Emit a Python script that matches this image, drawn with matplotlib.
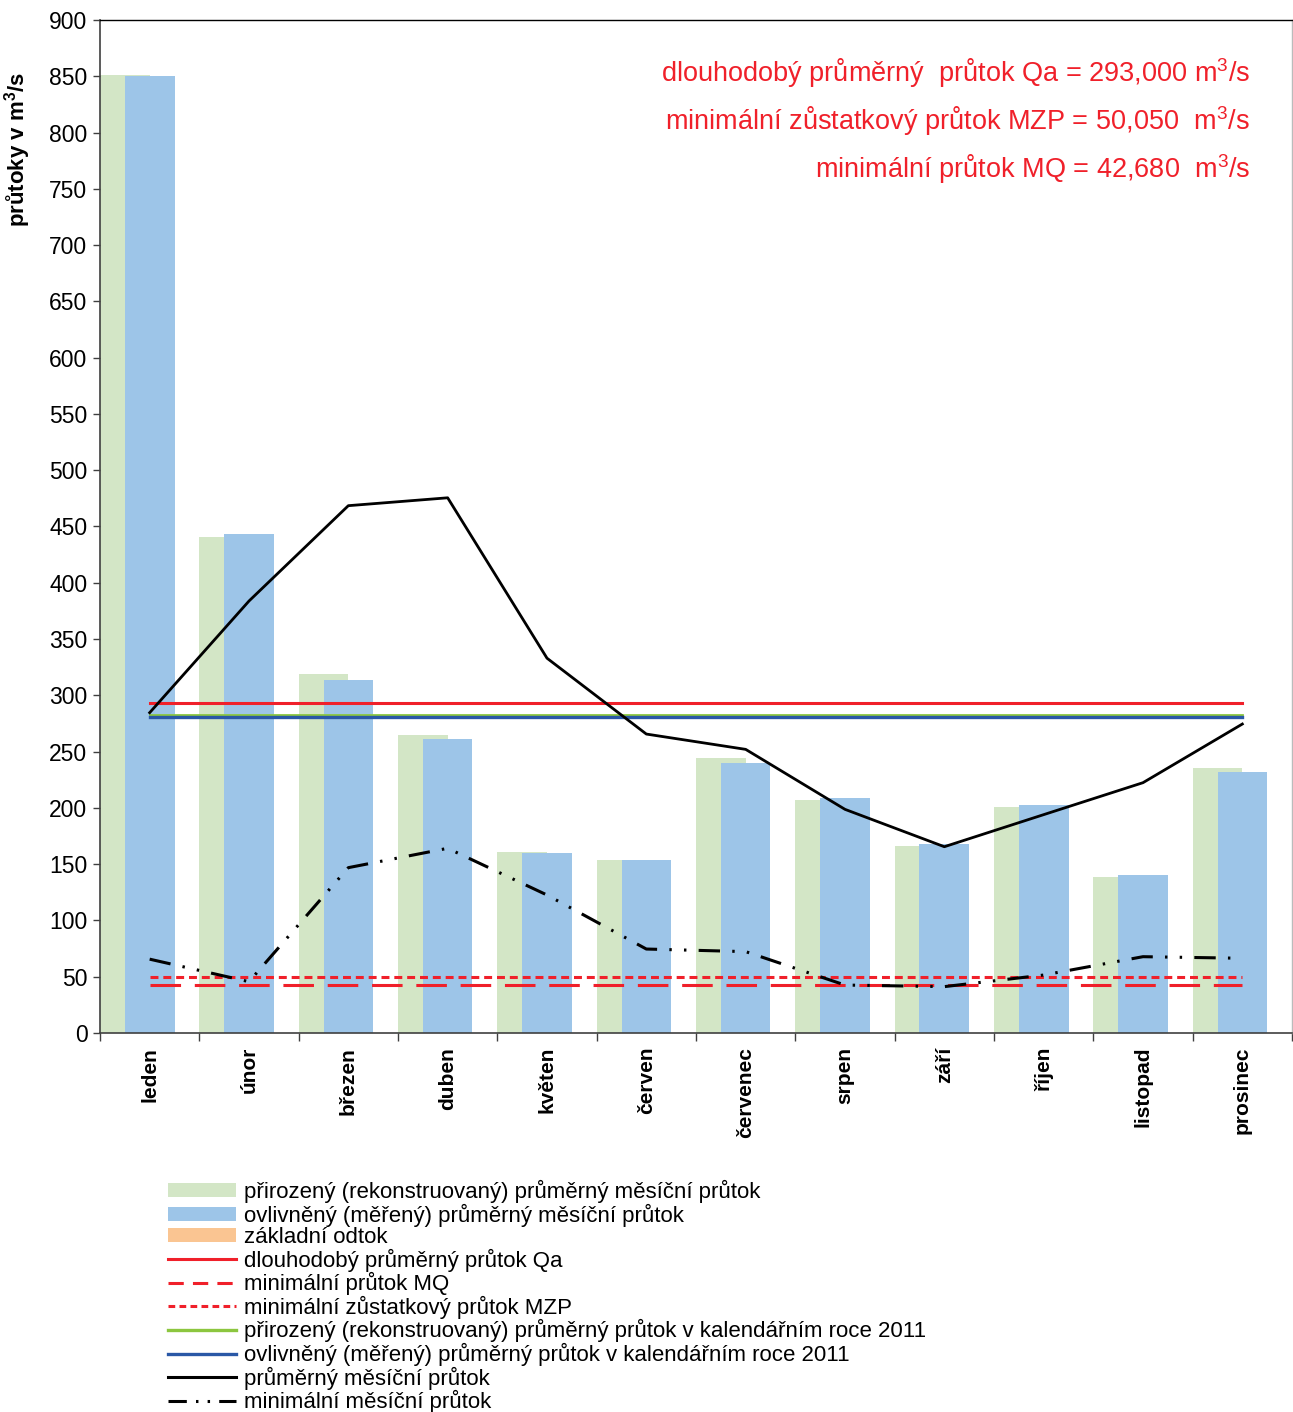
import matplotlib
matplotlib.use("Agg")
import matplotlib.pyplot as plt
from matplotlib.patches import Patch
from matplotlib.lines import Line2D
import numpy as np

plt.rcParams['font.family'] = ['Liberation Sans', 'DejaVu Sans']
plt.rcParams['mathtext.fontset'] = 'custom'
plt.rcParams['mathtext.rm'] = 'Liberation Sans'
plt.rcParams['mathtext.it'] = 'Liberation Sans:italic'
plt.rcParams['mathtext.bf'] = 'Liberation Sans:bold'

months = ["leden", "únor", "březen", "duben", "květen", "červen",
          "červenec", "srpen", "září", "říjen", "listopad", "prosinec"]
natural_monthly = [851, 441, 319, 265, 161, 154, 244, 207, 166, 201, 139, 235]
measured_monthly = [850, 443, 314, 261, 160, 154, 240, 208.5, 167.5, 202.5, 140.5, 232]
mean_monthly = [284.6, 383.8, 468.5, 475.5, 333, 265.6, 252, 198.7, 165.5, 194, 222.4, 274.5]
min_monthly = [65.6, 45.6, 146.9, 164.1, 122.6, 74.6, 72.3, 42.6, 41.2, 51.5, 67.8, 66.4]
Qa = 293.0
MZP = 50.05
MQ = 42.68
natural_2011 = 282.5
measured_2011 = 281.0

legend_labels = [
    "přirozený (rekonstruovaný) průměrný měsíční průtok",
    "ovlivněný (měřený) průměrný měsíční průtok",
    "základní odtok",
    "dlouhodobý průměrný průtok Qa",
    "minimální průtok MQ",
    "minimální zůstatkový průtok MZP",
    "přirozený (rekonstruovaný) průměrný průtok v kalendářním roce 2011",
    "ovlivněný (měřený) průměrný průtok v kalendářním roce 2011",
    "průměrný měsíční průtok",
    "minimální měsíční průtok",
]
info_texts = [
    "dlouhodobý průměrný  průtok Qa = 293,000 m$^3$/s",
    "minimální zůstatkový průtok MZP = 50,050  m$^3$/s",
    "minimální průtok MQ = 42,680  m$^3$/s",
]
ylabel = r"průtoky v m$^\mathbf{3}$/s"

c_green = "#D3E6C6"
c_blue = "#9DC5E8"
c_orange = "#FAC592"
c_red = "#F0202A"
c_green_line = "#8CC63F"
c_blue_line = "#2A58A6"

W, H = 1293, 1412
fig = plt.figure(figsize=(W / 100, H / 100), dpi=100)
ax = fig.add_axes([100 / W, (H - 1033) / H, 1192 / W, 1013 / H])

x = np.arange(len(months))
ax.bar(x - 0.25, natural_monthly, width=0.5, color=c_green, zorder=1)
ax.bar(x, measured_monthly, width=0.5, color=c_blue, zorder=2)

n = len(months)
ax.plot(x, np.full(n, Qa), color=c_red, lw=2.2, zorder=3)
ax.plot(x, np.full(n, MQ), color=c_red, lw=2.2, ls=(0, (10, 4.5)), zorder=3)
ax.plot(x, np.full(n, MZP), color=c_red, lw=2.2, ls=(0, (2.6, 1.6)), zorder=3)
ax.plot(x, np.full(n, natural_2011), color=c_green_line, lw=2.0, zorder=3)
ax.plot(x, np.full(n, measured_2011), color=c_blue_line, lw=2.4, zorder=4)
ax.plot(x, mean_monthly, color="black", lw=2.0, zorder=5)
ax.plot(x, min_monthly, color="black", lw=2.2, ls=(0, (7, 4, 0.8, 4, 0.8, 4)), zorder=5)

ax.set_xlim(-0.5, n - 0.5)
ax.set_ylim(0, 900)
ax.set_yticks(np.arange(0, 901, 50))
ax.tick_params(axis='y', labelsize=16.5, direction='out', length=5, width=1, color='#404040', pad=4)
ax.set_xticks(np.arange(-0.5, n, 1.0))
ax.set_xticklabels([])
ax.tick_params(axis='x', which='major', direction='out', length=6, width=1, color='#404040')
ax.set_xticks(x, minor=True)
ax.set_xticklabels(months, minor=True, rotation=90, fontsize=15, fontweight='bold', va='top')
ax.tick_params(axis='x', which='minor', length=0, pad=10)
for s in ['left', 'bottom']:
    ax.spines[s].set_color('#404040')
    ax.spines[s].set_linewidth(1.2)
ax.spines['top'].set_color('black')
ax.spines['top'].set_linewidth(1.0)
ax.spines['right'].set_color('#BBBBBB')
ax.spines['right'].set_linewidth(1.0)

fig.text(18 / W, 1 - 149 / H, ylabel, rotation=90, fontsize=16, fontweight='bold',
         ha='center', va='center')

for t, yy in zip(info_texts, [73, 121, 169]):
    fig.text(1250 / W, 1 - yy / H, t, color=c_red, fontsize=19.5, ha='right', va='center')

handles = [
    Patch(facecolor=c_green, edgecolor='none'),
    Patch(facecolor=c_blue, edgecolor='none'),
    Patch(facecolor=c_orange, edgecolor='none'),
    Line2D([], [], color=c_red, lw=2.2),
    Line2D([], [], color=c_red, lw=2.2, ls=(0, (5, 3))),
    Line2D([], [], color=c_red, lw=2.2, ls=(0, (2.2, 1.4))),
    Line2D([], [], color=c_green_line, lw=2.4),
    Line2D([], [], color=c_blue_line, lw=2.4),
    Line2D([], [], color='black', lw=2.2),
    Line2D([], [], color='black', lw=2.2, ls=(0, (6, 3, 0.8, 3, 0.8, 3))),
]
leg = fig.legend(handles, legend_labels, loc='upper left', bbox_to_anchor=(168 / W, 1 - 1180 / H),
                 frameon=False, fontsize=16, handlelength=3.05, handleheight=0.6,
                 handletextpad=0.36, labelspacing=0.02, borderpad=0, borderaxespad=0)

fig.savefig("out.png", dpi=100)
